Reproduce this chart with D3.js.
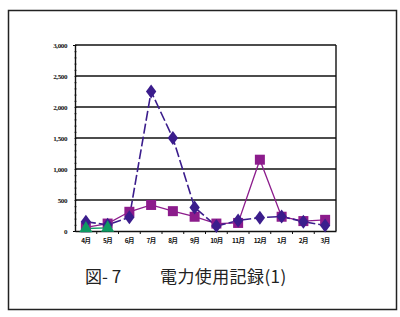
<!DOCTYPE html>
<html>
<head>
<meta charset="utf-8">
<script src="https://cdn.jsdelivr.net/npm/d3@7"></script>
<style>
  body { margin: 0; background: #fff; }
  svg { display: block; }
</style>
</head>
<body>
<div id="chart"></div>
<script>
var width = 400,
    height = 317;

// data
var months = ["4月", "5月", "6月", "7月", "8月", "9月", "10月", "11月", "12月", "1月", "2月", "3月"];
var seriesA = [150, 100, 220, 2250, 1500, 380, 80, 170, 215, 235, 150, 90];   // diamonds, dashed
var seriesB = [60, 120, 310, 420, 320, 230, 120, 130, 1150, 230, 160, 180];   // squares
var seriesC = [40, 50];                                                     // triangles, 4月-5月 only
var yTicks = [0, 500, 1000, 1500, 2000, 2500, 3000];

var margin = {left: 75, right: 64, top: 45, bottom: 86};
var plotW = width - margin.left - margin.right,
    plotH = height - margin.top - margin.bottom;

var svg = d3.select("#chart").append("svg")
    .attr("width", width)
    .attr("height", height);

// outer frame
svg.append("rect")
    .attr("x", 8.5).attr("y", 10.5)
    .attr("width", 388).attr("height", 299)
    .attr("fill", "none")
    .attr("stroke", "#222")
    .attr("stroke-width", 1.5);

var g = svg.append("g")
    .attr("transform", "translate(" + margin.left + "," + margin.top + ")");

var x = d3.scaleBand()
    .domain(months)
    .range([0, plotW]);

var y = d3.scaleLinear()
    .domain([0, 3000])
    .range([plotH, 0]);

// gridlines
g.selectAll(".grid")
  .data(yTicks.slice(1))
  .enter().append("line")
    .attr("class", "grid")
    .attr("x1", 0).attr("x2", plotW)
    .attr("y1", function(d) { return y(d); })
    .attr("y2", function(d) { return y(d); })
    .attr("stroke", "#111")
    .attr("stroke-width", 1.4);

// right border
g.append("line")
    .attr("x1", plotW).attr("x2", plotW)
    .attr("y1", 0).attr("y2", plotH)
    .attr("stroke", "#111").attr("stroke-width", 1.4);

// y axis with minor ticks
g.append("g")
    .call(d3.axisLeft(y).tickValues(d3.range(0, 3001, 100)).tickSize(2).tickFormat(""))
    .call(function(s) { s.selectAll("line").attr("transform", "translate(1.5,0)").attr("stroke-width", 0.8); });

var yAxis = g.append("g")
    .call(d3.axisLeft(y).tickValues(yTicks).tickSize(0).tickPadding(8).tickFormat(d3.format(",")));
yAxis.select(".domain").attr("stroke", "#111").attr("stroke-width", 1.4);
yAxis.selectAll("text")
    .attr("font-family", "Liberation Serif")
    .attr("font-weight", "bold")
    .attr("font-size", 7)
    .attr("letter-spacing", -0.4)
    .attr("fill", "#111");

// x axis
var xAxis = g.append("g")
    .attr("transform", "translate(0," + plotH + ")")
    .call(d3.axisBottom(x).tickSize(0).tickPadding(7));
xAxis.select(".domain").attr("stroke", "#111").attr("stroke-width", 1.4);
xAxis.selectAll("text")
    .attr("font-family", "Noto Sans CJK JP")
    .attr("font-weight", "bold")
    .attr("font-size", 6.5)
    .attr("letter-spacing", -0.6)
    .attr("fill", "#111");
g.selectAll(".xtick")
  .data(months.slice(1))
  .enter().append("line")
    .attr("x1", function(d) { return x(d); })
    .attr("x2", function(d) { return x(d); })
    .attr("y1", plotH).attr("y2", plotH + 3)
    .attr("stroke", "#111").attr("stroke-width", 1);

function cx(i) { return x(months[i]) + x.bandwidth() / 2; }

var line = d3.line()
    .x(function(d, i) { return cx(i); })
    .y(function(d) { return y(d); });

var colA = "#3b1d8c", colB = "#8c1c8c", colC = "#0e9a62";

// series B (squares)
g.append("path")
    .attr("d", line(seriesB))
    .attr("fill", "none").attr("stroke", colB).attr("stroke-width", 1.3);

// series A (diamonds, dashed)
g.append("path")
    .attr("d", line(seriesA))
    .attr("fill", "none").attr("stroke", colA).attr("stroke-width", 1.6)
    .attr("stroke-dasharray", "10,3");

// series C (triangles)
g.append("path")
    .attr("d", line(seriesC))
    .attr("fill", "none").attr("stroke", colC).attr("stroke-width", 1.3);

g.selectAll(".sq")
  .data(seriesB)
  .enter().append("rect")
    .attr("x", function(d, i) { return cx(i) - 5; })
    .attr("y", function(d) { return y(d) - 5; })
    .attr("width", 10).attr("height", 10)
    .attr("fill", colB);

g.selectAll(".dm")
  .data(seriesA)
  .enter().append("path")
    .attr("d", d3.symbol().type(d3.symbolDiamond).size(70))
    .attr("transform", function(d, i) { return "translate(" + cx(i) + "," + y(d) + ") scale(1.15,0.9)"; })
    .attr("fill", colA);

g.selectAll(".tr")
  .data(seriesC)
  .enter().append("path")
    .attr("d", d3.symbol().type(d3.symbolTriangle).size(75))
    .attr("transform", function(d, i) { return "translate(" + cx(i) + "," + y(d) + ")"; })
    .attr("fill", colC);

// caption
svg.append("text")
    .attr("x", 85).attr("y", 283)
    .attr("font-family", "Noto Sans CJK JP")
    .attr("font-size", 17)
    .attr("fill", "#222")
    .text("図- 7");
svg.append("text")
    .attr("x", 160).attr("y", 283)
    .attr("font-family", "Noto Sans CJK JP")
    .attr("font-size", 17)
    .attr("letter-spacing", 0.4)
    .attr("fill", "#222")
    .text("電力使用記録(1)");
</script>
</body>
</html>
